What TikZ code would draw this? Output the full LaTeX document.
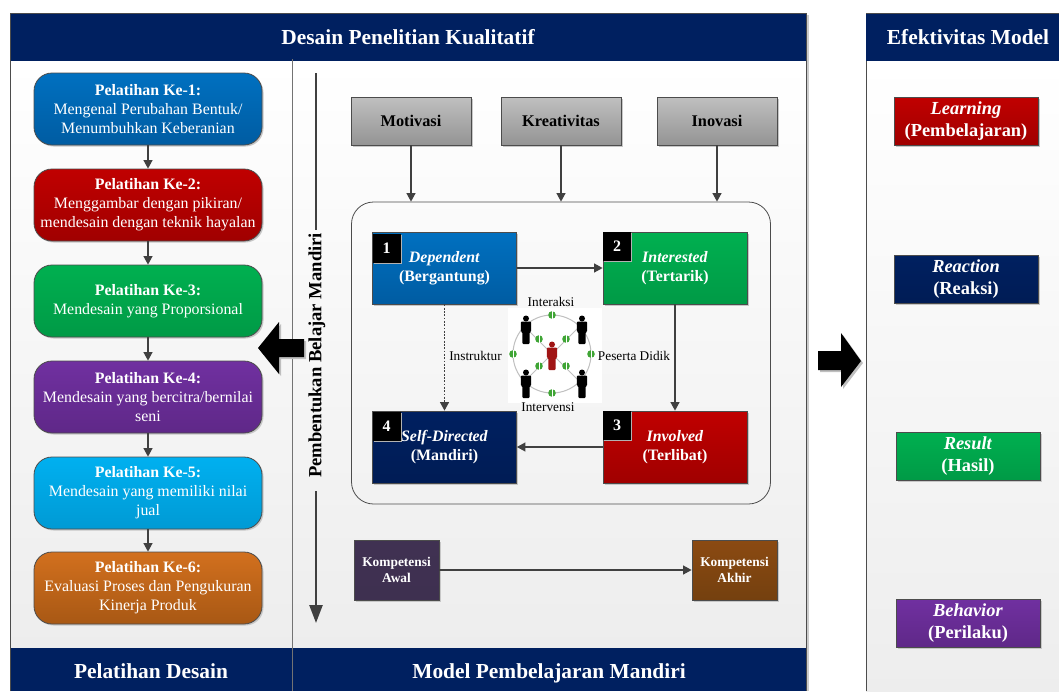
\documentclass[tikz,border=0pt]{standalone}
\usepackage{fontspec}
\setmainfont{Liberation Serif}
\usetikzlibrary{shadows,arrows.meta,positioning}
\definecolor{navyT}{HTML}{002060}
\definecolor{navyB}{HTML}{001C55}
\definecolor{lineg}{HTML}{404040}
\definecolor{bluT}{HTML}{0070C0}\definecolor{bluB}{HTML}{005CA2}
\definecolor{redT}{HTML}{C00000}\definecolor{redB}{HTML}{A00000}
\definecolor{grnT}{HTML}{00B050}\definecolor{grnB}{HTML}{009A46}
\definecolor{purT}{HTML}{7030A0}\definecolor{purB}{HTML}{5F2888}
\definecolor{cyaT}{HTML}{00B0F0}\definecolor{cyaB}{HTML}{009AD4}
\definecolor{oraT}{HTML}{D2701E}\definecolor{oraB}{HTML}{A85814}
\definecolor{plmT}{HTML}{403152}\definecolor{plmB}{HTML}{3E3050}
\definecolor{brnT}{HTML}{8B4A12}\definecolor{brnB}{HTML}{74400F}
\definecolor{dotg}{HTML}{3FA535}
\definecolor{redp}{HTML}{A01414}
\tikzset{
  x=1pt,y=-1pt,
  shade1/.style={copy shadow={shadow xshift=1.5pt,shadow yshift=-1.5pt,draw=none,fill=black!22}},
  boxbase/.style={draw=black!70,line width=.8pt,text=white,align=center,inner sep=0pt,shade1},
  pala/.style={boxbase,rounded corners=18pt,minimum width=228pt,minimum height=72pt,font=\fontsize{15.9}{19}\selectfont},
  sq/.style={boxbase,minimum width=144pt,minimum height=72pt,font=\fontsize{15.9}{19.5}\selectfont\bfseries,execute at begin node={\rule{0pt}{14pt}}},
  small/.style={boxbase,minimum width=144pt,minimum height=48pt,font=\fontsize{18.4}{22}\selectfont\bfseries,execute at begin node={\rule{0pt}{16.5pt}}},
  grey/.style={boxbase,text=black,minimum width=120pt,minimum height=48pt,top color=black!25,bottom color=black!42,font=\fontsize{16.3}{18}\selectfont\bfseries},
  komp/.style={boxbase,minimum width=85pt,minimum height=60pt,font=\fontsize{13.4}{16}\selectfont\bfseries},
  num/.style={fill=black,text=white,minimum width=28pt,minimum height=29pt,inner sep=0pt,font=\fontsize{16}{16}\selectfont\bfseries,copy shadow={shadow xshift=1pt,shadow yshift=-1pt,draw=none,fill=white!70!black}},
  lab/.style={text=black,font=\fontsize{13.3}{14}\selectfont,inner sep=0pt},
  hdr/.style={text=white,font=\fontsize{21.4}{24}\selectfont\bfseries,inner sep=0pt},
  con/.style={draw=lineg,line width=1.1pt,-{Triangle[length=8.5pt,width=9pt]}},
  cblue/.style={top color=bluT,bottom color=bluB},
  cred/.style={top color=redT,bottom color=redB},
  cgrn/.style={top color=grnT,bottom color=grnB},
  cpur/.style={top color=purT,bottom color=purB},
  ccya/.style={top color=cyaT,bottom color=cyaB},
  cora/.style={top color=oraT,bottom color=oraB},
  cnav/.style={top color=navyT,bottom color=navyB},
  cplm/.style={top color=plmT,bottom color=plmB},
  cbrn/.style={top color=brnT,bottom color=brnB},
  personk/.pic={
    \fill[black] (0,-11.5) circle (3);
    \fill[black,rounded corners=1pt] (-5.2,-8.5) -- (5.2,-8.5) -- (5.2,2) -- (3.7,2) -- (3.7,14) -- (-3.7,14) -- (-3.7,2) -- (-5.2,2) -- cycle;
  },
  personr/.pic={
    \fill[redp] (0,-11.5) circle (3);
    \fill[redp,rounded corners=1pt] (-5.2,-8.5) -- (5.2,-8.5) -- (5.2,2) -- (3.7,2) -- (3.7,14) -- (-3.7,14) -- (-3.7,2) -- (-5.2,2) -- cycle;
  },
  gdot/.pic={
    \fill[dotg] (0,0) circle (3.8);
    \draw[white,line width=.4pt] (0,-3.8) -- (0,3.8);
  },
}
\begin{document}
\begin{tikzpicture}
\useasboundingbox (0,0) rectangle (1059,691);
% panels
\fill[black!20] (806,15) rectangle (809,691);
\shade[top color=white,bottom color=black!7] (10,61) rectangle (806,648);
\shade[top color=white,bottom color=black!7] (866,61) rectangle (1059,691);
\fill[navyT] (10,13) rectangle (806,61);
\fill[navyT] (10,648) rectangle (806,691);
\draw[black!70,line width=.8pt] (10.5,691) -- (10.5,13.5) -- (806,13.5) -- (806,691);
\draw[black!70,line width=.8pt] (866.5,691) -- (866.5,13.5) -- (1059,13.5);
\fill[navyT] (866,14) rectangle (1059,61);
\draw[black!55,line width=1pt] (292,59) -- (292,691);
\node[hdr] (h1) at (408,37) {Desain Penelitian Kualitatif};
\node[hdr] (h2) at (968,37) {Efektivitas Model};
\node[hdr] (f1) at (151,671) {Pelatihan Desain};
\node[hdr] (f2) at (549,673) {Model Pembelajaran Mandiri};
% left column
\node[pala,cblue] (p1) at (148,109) {\textbf{Pelatihan Ke-1:}\\Mengenal Perubahan Bentuk/\\Menumbuhkan Keberanian};
\node[pala,cred] (p2) at (148,205) {\textbf{Pelatihan Ke-2:}\\Menggambar dengan pikiran/\\mendesain dengan teknik hayalan};
\node[pala,cgrn] (p3) at (148,301) {\textbf{Pelatihan Ke-3:}\\Mendesain yang Proporsional};
\node[pala,cpur] (p4) at (148,397) {\textbf{Pelatihan Ke-4:}\\Mendesain yang bercitra/bernilai\\seni};
\node[pala,ccya] (p5) at (148,493) {\textbf{Pelatihan Ke-5:}\\Mendesain yang memiliki nilai\\jual};
\node[pala,cora] (p6) at (148,588) {\textbf{Pelatihan Ke-6:}\\Evaluasi Proses dan Pengukuran\\Kinerja Produk};
\foreach \a/\b in {p1/p2,p2/p3,p3/p4,p4/p5,p5/p6} \draw[con] (\a) -- (\b);
% vertical arrow
\node[font=\fontsize{18.6}{20}\selectfont\bfseries,rotate=90,text=black,inner sep=0pt] (vt) at (317,355.5) {Pembentukan Belajar Mandiri};
\coordinate (vtop) at (316,73);
\coordinate (vbot) at (316,623);
\coordinate (vm1) at (316,230);
\coordinate (vm2) at (316,491);
\draw[lineg,line width=2.4pt] (vtop) -- (vm1);
\draw[lineg,line width=2.4pt,-{Triangle[length=18pt,width=13pt]}] (vm2) -- (vbot);
% block arrows
\fill[black!25] (260,350) -- (281,324) -- (281,341) -- (306,341) -- (306,359) -- (281,359) -- (281,376) -- cycle;
\fill[black] (258,348) -- (279,322) -- (279,339) -- (304,339) -- (304,357) -- (279,357) -- (279,374) -- cycle;
\fill[black!25] (863,363) -- (843,335) -- (843,353) -- (820,353) -- (820,372) -- (843,372) -- (843,389) -- cycle;
\fill[black] (861,361) -- (841,333) -- (841,351) -- (818,351) -- (818,370) -- (841,370) -- (841,387) -- cycle;
% top grey boxes
\node[grey] (m1) at (411,121) {Motivasi};
\node[grey] (m2) at (561,121) {Kreativitas};
\node[grey] (m3) at (717,121) {Inovasi};
% rounded container
\node[draw=black!70,line width=.8pt,rounded corners=22pt,minimum width=419pt,minimum height=302pt,inner sep=0pt] (cont) at (561,353) {};
\draw[con] (m1) -- (m1 |- cont.north);
\draw[con] (m2) -- (m2 |- cont.north);
\draw[con] (m3) -- (m3 |- cont.north);
% centre picture
\fill[white] (508,308) rectangle (602,403);
\draw[black!25,line width=1pt] (552,354) circle (39);
\foreach \dx/\dy in {-1/-1,1/-1,-1/1,1/1} \draw[black!25,line width=1pt] (552,354) -- ++(30*\dx,30*\dy);
\foreach \p in {(526,330),(582,330),(526,384),(582,384)} \path \p pic {personk};
\path (552,356) pic {personr};
\foreach \p in {(552,315),(552,393),(513,354),(591,354),(539,339),(566,339),(539,366),(566,366)} \path \p pic {gdot};
% four states
\node[sq,cblue] (s1) at (444.5,268) {\textit{Dependent}\\(Bergantung)};
\node[sq,cgrn] (s2) at (675,268) {\textit{Interested}\\(Tertarik)};
\node[sq,cred] (s3) at (675,447) {\textit{Involved}\\(Terlibat)};
\node[sq,cnav] (s4) at (444.5,447) {\textit{Self-Directed}\\(Mandiri)};
\node[num] (n1) at (386.5,248.5) {1};
\node[num] (n2) at (617,246.5) {2};
\node[num] (n3) at (617,425.5) {3};
\node[num] (n4) at (386.5,426.5) {4};
\draw[con] (s1) -- (s2);
\draw[con] (s2) -- (s3);
\draw[con] (s3) -- (s4);
\draw[con,dash pattern=on 1.8pt off 1.5pt] (s1) -- (s4);
\node[lab] (l1) at (551,302) {Interaksi};
\node[lab] (l2) at (475.5,356) {Instruktur};
\node[lab] (l3) at (634,356) {Peserta Didik};
\node[lab] (l4) at (548,407) {Intervensi};
% competence
\node[komp,cplm] (k1) at (396.5,570) {Kompetensi\\Awal};
\node[komp,cbrn] (k2) at (734.5,570) {Kompetensi\\Akhir};
\draw[con] (k1) -- (k2);
% right column
\node[small,cred] (r1) at (966,121.5) {\textit{Learning}\\(Pembelajaran)};
\node[small,cnav] (r2) at (966,279.5) {\textit{Reaction}\\(Reaksi)};
\node[small,cgrn] (r3) at (968,456) {\textit{Result}\\(Hasil)};
\node[small,cpur] (r4) at (968,623.5) {\textit{Behavior}\\(Perilaku)};
\end{tikzpicture}
\end{document}
